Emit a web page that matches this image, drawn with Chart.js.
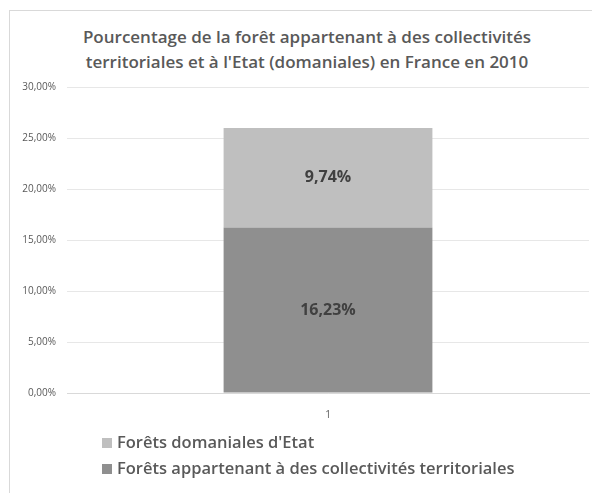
<!DOCTYPE html>
<html>
<head>
<meta charset="utf-8">
<script src="https://cdn.jsdelivr.net/npm/chart.js@4.4.0/dist/chart.umd.min.js"></script>
<style>
  body { margin: 0; background: #fff; font-family: "Open Sans", sans-serif; }
  #wrap { position: relative; width: 592px; height: 493px; overflow: hidden; }
  #frame { position: absolute; left: 9px; top: 10px; width: 600px; height: 500px; border: 1px solid #d9d9d9; box-sizing: border-box; }
  #title { position: absolute; left: 7px; width: 600px; top: 24px; text-align: center; color: #595959; font-size: 17px; font-weight: 600; line-height: 25px; }
  canvas { position: absolute; left: 0; top: 0; }
  #legend { position: absolute; left: 102px; top: 429px; color: #595959; font-size: 16.5px; font-weight: 600; }
  .item { height: 26px; line-height: 26px; white-space: nowrap; }
  .box { display: inline-block; width: 10px; height: 10px; margin-right: 5px; vertical-align: 0px; }
</style>
</head>
<body>
<div id="wrap">
  <div id="frame"></div>
  <div id="title">Pourcentage de la forêt appartenant à des collectivités<br>territoriales et à l'Etat (domaniales) en France en 2010</div>
  <canvas id="chart" width="592" height="493"></canvas>
  <div id="legend"></div>
</div>
<script>
let categories = ["1"];
let seriesNames = ["Forêts appartenant à des collectivités territoriales", "Forêts domaniales d'Etat"];
let collectivites = [16.23];
let domaniales = [9.74];
let colors = ["#8f8f8f", "#bfbfbf"];

function fr(v) {
    return v.toFixed(2).replace(".", ",") + "%";
}

// draws the values inside each bar segment
let barLabels = {
    id: "barLabels",
    afterDatasetsDraw(chart) {
        let ctx = chart.ctx;
        ctx.save();
        ctx.font = "700 16px 'Open Sans'";
        ctx.fillStyle = "#404040";
        ctx.textAlign = "center";
        ctx.textBaseline = "middle";
        chart.data.datasets.forEach(function(ds, i) {
            chart.getDatasetMeta(i).data.forEach(function(bar, j) {
                let mid = (bar.y + bar.base) / 2;
                ctx.fillText(fr(ds.data[j]), bar.x, mid);
            });
        });
        ctx.restore();
    }
};

let chart = new Chart(document.getElementById("chart"), {
    type: "bar",
    data: {
        labels: categories,
        datasets: [
            { label: seriesNames[0], data: collectivites, backgroundColor: colors[0] },
            { label: seriesNames[1], data: domaniales, backgroundColor: colors[1] }
        ]
    },
    options: {
        responsive: false,
        animation: false,
        layout: { padding: { top: 87, left: 0, right: 3, bottom: 75 } },
        barPercentage: 0.4,
        categoryPercentage: 1,
        plugins: { legend: { display: false }, tooltip: { enabled: false } },
        scales: {
            x: {
                stacked: true,
                grid: { display: false },
                border: { color: "#d9d9d9" },
                ticks: { color: "#595959", font: { family: "Open Sans", size: 10 }, padding: 8 },
                afterFit: function(s) { s.height = 25; }
            },
            y: {
                stacked: true,
                min: 0,
                max: 30,
                grid: { color: "#e7e7e7", drawTicks: false },
                border: { display: false },
                ticks: {
                    stepSize: 5,
                    color: "#595959",
                    font: { family: "Open Sans", size: 10 },
                    padding: 11,
                    callback: function(v) { return fr(v); }
                },
                afterFit: function(s) { s.width = 67; }
            }
        }
    },
    plugins: [barLabels]
});

// legend, top series first
let legendDiv = document.getElementById("legend");
chart.data.datasets.slice().reverse().forEach(function(ds) {
    legendDiv.innerHTML += `<div class="item"><span class="box" style="background:${ds.backgroundColor}"></span>${ds.label}</div>`;
});
</script>
</body>
</html>
